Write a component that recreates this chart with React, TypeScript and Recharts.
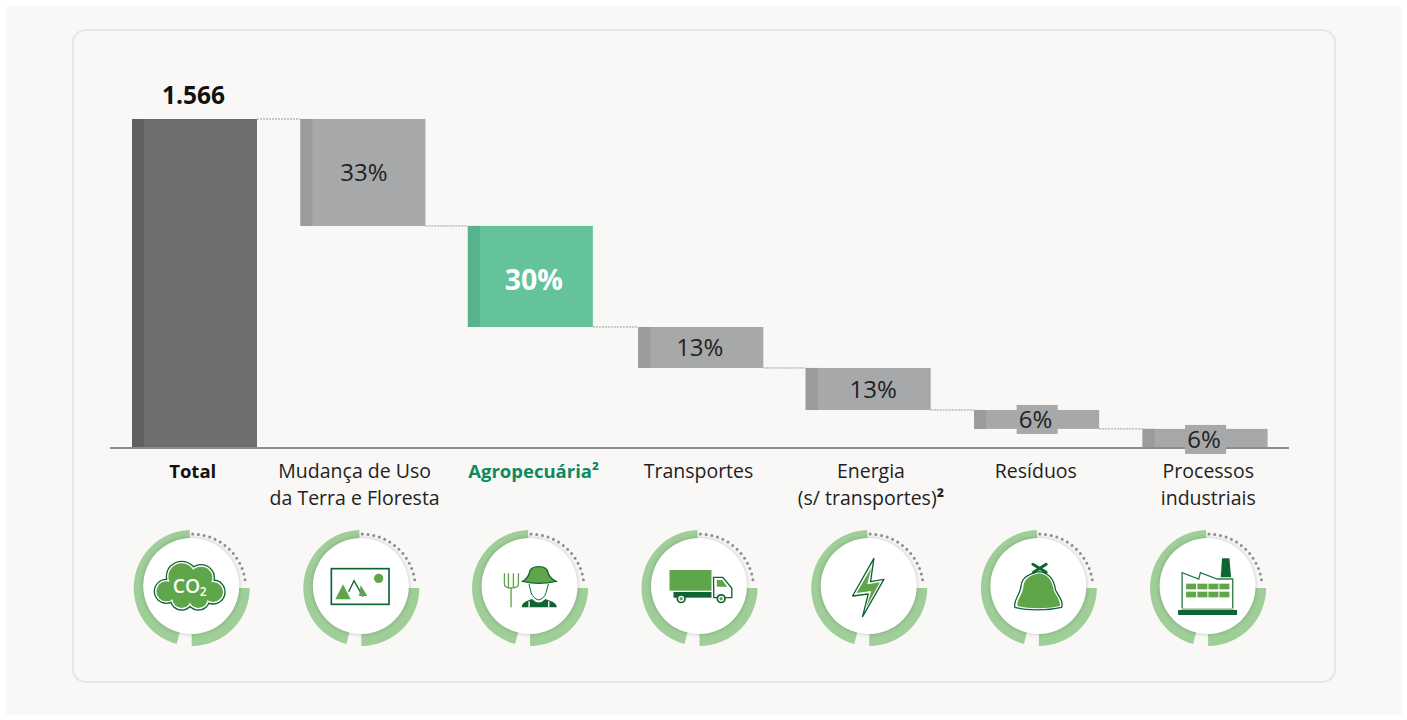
import React from 'react';
import { BarChart, Bar, XAxis, YAxis, LabelList } from 'recharts';

const categories = [
    'Total',
    'Mudança de Uso\nda Terra e Floresta',
    'Agropecuária²',
    'Transportes',
    'Energia\n(s/ transportes)²',
    'Resíduos',
    'Processos\nindustriais',
];
const values = [1566, 509, 481, 195, 200, 90, 91];
const valueLabels = ['1.566', '33%', '30%', '13%', '13%', '6%', '6%'];
const iconKinds = ['cloud', 'land', 'farmer', 'truck', 'bolt', 'bag', 'factory'];

// the source slide is hand placed, so labels and rings sit slightly off the bar centres
const captionNudge = [-1.5, -8, 2.5, -1, 3, -0.5, 3.5];
const ringNudge = [-2.5, -1.3, -1, 0, 1.3, 2.5, 3.3];
const labelNudge = [-1, 1, 2.5, 0, 5, -1, -1];
const barNudge = [0, 0, -1, 1, 0, 0, 0];

const FONT = '"Open Sans", sans-serif';
const BAR_WIDTH = 125;
const STEP_GAP = 43.3;
const DARK = '#0F6433';
const MID = '#5FA64B';
const RING = '#9FCE98';
const cloudLobes = [
    [-76, 10, 38],
    [-30, -34, 48],
    [28, -30, 42],
    [64, 12, 38],
    [20, 32, 36],
    [-30, 32, 36],
    [-5, 0, 50],
];

const data = categories.map((name, i) => ({
    name,
    value: values[i],
    label: valueLabels[i],
    // waterfall: each step hangs from the bottom of the one before it
    offset: i === 0 ? 0 : values[0] - values.slice(1, i + 1).reduce((a, b) => a + b, 0),
}));

const barColors = (i: number) => {
    if (i === 0) return ['#6D6E70', '#5F6062'];
    if (i === 2) return ['#64C39B', '#55B48C'];
    return ['#A7A8AA', '#9A9B9D'];
};

const StepBar = (props: any) => {
    const { y, width, height, index } = props;
    const x = props.x + barNudge[index];
    const [fill, stripe] = barColors(index);
    const lineY = index === 0 ? y : y + height;
    const lineEnd = props.x + width + STEP_GAP + (barNudge[index + 1] ?? 0);
    return (
        <g>
            <rect x={x} y={y} width={width} height={height} fill={fill} />
            <rect x={x} y={y} width={12} height={height} fill={stripe} />
            {index < categories.length - 1 && (
                <line
                    x1={x + width}
                    x2={lineEnd}
                    y1={lineY}
                    y2={lineY}
                    stroke="#9A9A9A"
                    strokeWidth={1}
                    strokeDasharray="2 1"
                />
            )}
        </g>
    );
};

const BarLabel = (props: any) => {
    const { x, y, width, height, value, index } = props;
    const cx = x + width / 2;
    const textX = cx + labelNudge[index];
    if (index === 0) {
        return (
            <text x={textX} y={y - 15} textAnchor="middle" fontFamily={FONT} fontSize={24.5} fontWeight={700} fill="#111">
                {value}
            </text>
        );
    }
    const cy = y + height / 2;
    const small = height < 25;
    const bold = index === 2;
    let textY = cy + 9;
    if (bold) textY = cy + 14;
    if (index === 6) textY = cy + 10;
    return (
        <g>
            {small && <rect x={cx - 20} y={index === 6 ? cy - 13.5 : cy - 14.5} width={41} height={29} fill="#A7A8AA" />}
            <text
                x={textX}
                y={textY}
                textAnchor="middle"
                fontFamily={FONT}
                fontSize={bold ? 28.5 : 24}
                fontWeight={bold ? 700 : 400}
                fill={bold ? '#fff' : '#222'}
            >
                {value}
            </text>
        </g>
    );
};

const polar = (r: number, deg: number) => {
    const a = ((deg - 90) * Math.PI) / 180;
    return [r * Math.cos(a), r * Math.sin(a)];
};

const ringSlice = (from: number, to: number, inner: number, outer: number) => {
    const [x1, y1] = polar(outer, from);
    const [x2, y2] = polar(outer, to);
    const [x3, y3] = polar(inner, to);
    const [x4, y4] = polar(inner, from);
    const large = to - from > 180 ? 1 : 0;
    return `M${x1} ${y1}A${outer} ${outer} 0 ${large} 1 ${x2} ${y2}L${x3} ${y3}A${inner} ${inner} 0 ${large} 0 ${x4} ${y4}Z`;
};

// icons are drawn on a 3x grid around the ring centre
const Icon = ({ kind }: { kind: string }) => {
    if (kind === 'cloud') {
        return (
            <g>
                {cloudLobes.map((c, i) => <circle key={`d${i}`} cx={c[0]} cy={c[1]} r={c[2]} fill={DARK} />)}
                {cloudLobes.map((c, i) => <circle key={`w${i}`} cx={c[0]} cy={c[1]} r={c[2] - 4} fill="#fff" />)}
                {cloudLobes.map((c, i) => <circle key={`g${i}`} cx={c[0]} cy={c[1]} r={c[2] - 8} fill={MID} />)}
                <text x={-57} y={15} fontFamily={FONT} fontSize={58} fontWeight={600} fill="#fff">CO</text>
                <text x={24} y={24} fontFamily={FONT} fontSize={36} fontWeight={600} fill="#fff">2</text>
            </g>
        );
    }
    if (kind === 'land') {
        return (
            <g>
                <rect x={-90} y={-58} width={173} height={107} fill="#fff" stroke={DARK} strokeWidth={5} />
                <circle cx={52} cy={-29} r={14} fill={MID} />
                <path d="M-55 -11L-32 34H-78Z" fill={MID} />
                <path d="M-38 11L-22 -22L5 26" fill="none" stroke={DARK} strokeWidth={4} />
                <path d="M-2 -9L18 24H-7Z" fill={MID} />
            </g>
        );
    }
    if (kind === 'farmer') {
        return (
            <g>
                <path d="M-77 -44V-12M-65 -44V-2M-50 -44V-2M-35 -44V-12M-77 -12Q-77 0 -57 0Q-35 0 -35 -12M-57 0V58" fill="none" stroke={MID} strokeWidth={4} />
                <path d="M-22 -20Q-8 -28 -2 -45Q0 -64 26 -64Q52 -64 54 -45Q60 -28 78 -20Q26 -8 -22 -20Z" fill={MID} stroke={DARK} strokeWidth={4} />
                <path d="M-3 -12L3 14Q10 32 26 36Q42 32 48 14L55 -12" fill="none" stroke={DARK} strokeWidth={3} />
                <path d="M-25 58Q-25 44 -8 38L6 33Q26 54 46 33L60 38Q80 44 80 58Z" fill={DARK} />
                <path d="M-3 40V58M56 40V58" stroke="#fff" strokeWidth={4} />
            </g>
        );
    }
    if (kind === 'truck') {
        return (
            <g>
                <rect x={-90} y={-54} width={126} height={62} fill={MID} />
                <rect x={-78} y={12} width={114} height={17} fill={DARK} />
                <path d="M42 -32H70L97 1V29H43Z" fill="#fff" stroke={DARK} strokeWidth={4} />
                <path d="M52 -24H68L83 -4H52Z" fill={MID} />
                {[-55, 65].map((wx) => (
                    <g key={wx}>
                        <circle cx={wx} cy={32} r={14} fill={DARK} />
                        <circle cx={wx} cy={32} r={9} fill="#fff" />
                        <circle cx={wx} cy={32} r={5} fill={MID} />
                    </g>
                ))}
            </g>
        );
    }
    if (kind === 'bolt') {
        return (
            <g>
                <path d="M14 -89L-50 24L-3 18L-20 86L44 -26L4 -19Z" fill="#fff" stroke={DARK} strokeWidth={4} strokeLinejoin="round" />
                <path d="M7 -62L-38 15L6 9L-9 58L32 -17L-6 -11Z" fill={MID} />
            </g>
        );
    }
    if (kind === 'bag') {
        return (
            <g>
                <path d="M-72 58C-78 36 -55 21 -53 -9C-50 -34 -25 -44 2 -49C30 -44 45 -29 50 6C60 26 75 41 68 58C25 68 -35 68 -72 58Z" fill="#fff" stroke={DARK} strokeWidth={4} />
                <path d="M-64 54C-68 36 -48 20 -46 -6C-44 -26 -25 -40 2 -44C26 -40 40 -24 45 8C54 26 66 40 63 54C25 63 -30 63 -64 54Z" fill={MID} />
                <path d="M-18 -71L22 -47M22 -71L-16 -47" stroke={DARK} strokeWidth={9} strokeLinecap="round" />
            </g>
        );
    }
    return (
        <g>
            <path d="M42 -89H64L69 -32H38Z" fill={DARK} />
            <path d="M-78 61V-46L-28 -27L-23 -46L27 -27H74V61" fill="#fff" stroke="#2E7A4A" strokeWidth={4} />
            {[-66, -32, 1, 34].map((wx) =>
                [-13, 11].map((wy) => <rect key={`${wx}${wy}`} x={wx} y={wy} width={30} height={17} fill={MID} />),
            )}
            <rect x={-90} y={66} width={177} height={15} fill={DARK} />
            <rect x={-80} y={61} width={157} height={5} fill="#9DBBA5" />
        </g>
    );
};

const CategoryTick = (props: any) => {
    const { x, index, payload } = props;
    const lines = String(payload.value).split('\n');
    const cx = x + captionNudge[index];
    const ringX = x + ringNudge[index];
    const ringY = 588;
    const strong = index === 0 || index === 2;
    let color = '#222';
    if (index === 0) color = '#111';
    if (index === 2) color = '#0E8A5F';
    return (
        <g>
            <text textAnchor="middle" fontFamily={FONT} fontSize={strong ? 18.5 : 19.5} fontWeight={strong ? 700 : 400} fill={color}>
                {lines.map((line, i) => (
                    <tspan key={i} x={cx} y={478 + i * 27}>
                        {line.replace('²', '')}
                        {line.includes('²') && <tspan fontWeight={700}>²</tspan>}
                    </tspan>
                ))}
            </text>
            <g transform={`translate(${ringX} ${ringY})`}>
                <path d={ringSlice(195, 358, 46, 58)} fill={RING} />
                <path d={ringSlice(90, 180, 46, 58)} fill={RING} />
                <path
                    d={`M${polar(54, 1)[0]} ${polar(54, 1)[1]}A54 54 0 0 1 ${polar(54, 85)[0]} ${polar(54, 85)[1]}`}
                    fill="none"
                    stroke="#8E8E8E"
                    strokeWidth={3}
                    strokeLinecap="round"
                    strokeDasharray="0 5.8"
                />
                <circle cx={-0.5} cy={-2} r={48} fill="#fff" style={{ filter: 'drop-shadow(0 0 2px rgba(0,0,0,0.22))' }} />
                <g transform="scale(0.3333)">
                    <Icon kind={iconKinds[index]} />
                </g>
            </g>
        </g>
    );
};

const App = () => {
    return (
        <div style={{ position: 'absolute', left: 0, top: 0, width: 1407, height: 720, background: '#fff' }}>
            <div style={{ position: 'absolute', left: 6, top: 6, width: 1396, height: 709, background: '#F9F8F6' }} />
            <div
                style={{
                    position: 'absolute',
                    left: 72,
                    top: 29,
                    width: 1260,
                    height: 650,
                    border: '2px solid #E6E7E7',
                    borderRadius: 14,
                }}
            />
            <div style={{ position: 'absolute', left: 0, top: 0 }}>
                <BarChart
                    width={1407}
                    height={720}
                    data={data}
                    margin={{ top: 119, right: 118, left: 110, bottom: 0 }}
                    barSize={BAR_WIDTH}
                >
                    <YAxis hide domain={[0, values[0]]} />
                    <XAxis
                        dataKey="name"
                        height={272}
                        interval={0}
                        tick={CategoryTick}
                        tickLine={false}
                        axisLine={{ stroke: '#8C8C8C', strokeWidth: 2 }}
                    />
                    <Bar dataKey="offset" stackId="steps" fill="transparent" isAnimationActive={false} />
                    <Bar dataKey="value" stackId="steps" shape={StepBar} isAnimationActive={false}>
                        <LabelList dataKey="label" content={BarLabel} />
                    </Bar>
                </BarChart>
            </div>
        </div>
    );
};

export default App;
